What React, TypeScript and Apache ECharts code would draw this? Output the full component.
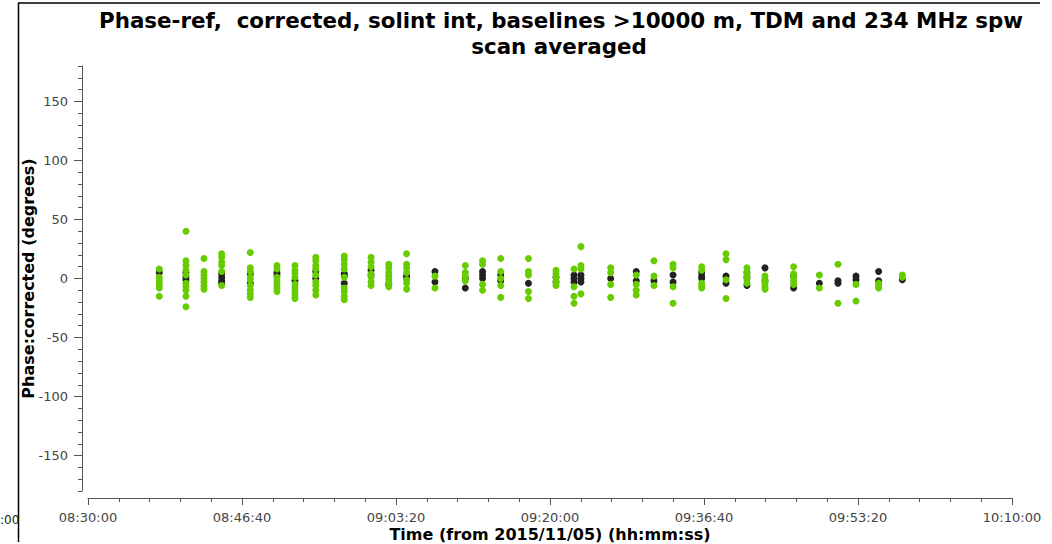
import React, { useEffect, useRef } from "react";
import * as echarts from "echarts";

// Scan mid-times (UT) on 2015/11/05
const scanTimes = [
  "08:37:43", "08:40:36", "08:42:33", "08:44:28", "08:47:34", "08:50:27",
  "08:52:24", "08:54:39", "08:57:44", "09:00:38", "09:02:33", "09:04:29",
  "09:07:33", "09:10:50", "09:12:42", "09:14:40", "09:17:40", "09:20:39",
  "09:22:36", "09:23:21", "09:26:34", "09:29:20", "09:31:15", "09:33:19",
  "09:36:25", "09:39:03", "09:41:19", "09:43:16", "09:46:22", "09:49:09",
  "09:51:10", "09:53:07", "09:55:34", "09:58:08",
];

// Corrected phases (degrees) per scan, 234 MHz spw
const greenPhases: number[][] = [
  [8, 1, -2, -5, -8, -15],
  [40, 15, 11, 7, 3, -4, -7, -10, -15, -24],
  [17, 6, 3, 0, -3, -6, -9],
  [21, 18, 14, 11, 6, -6],
  [22, 9, 6, 1, -1, -6, -10, -13, -16],
  [11, 8, 1, -2, -5, -8, -11],
  [11, 7, 4, 1, -5, -8, -11, -14, -17],
  [18, 15, 11, 8, 3, -3, -6, -10, -14],
  [19, 16, 12, 8, 1, -8, -11, -15, -18],
  [18, 14, 10, 4, 1, -3, -6],
  [12, 9, 5, 2, -1, -4, -7],
  [21, 12, 9, 5, -1, -4, -9],
  [2, -8],
  [11, 5, 2, -2],
  [15, 12, -5, -10],
  [17, 6, 0, -6, -16],
  [17, 6, 3, -11, -17],
  [7, 4, 1, -3, -6],
  [8, -7, -15, -21],
  [27, 11, 8, -13],
  [9, 5, -5, -16],
  [3, -5, -10, -14],
  [15, 2, -6],
  [12, 9, -7, -21],
  [10, 7, -4, -6, -8],
  [21, 16, -1, -17],
  [9, 5, 2, -1, -4],
  [2, -1, -4, -7, -9],
  [10, 4, 1, -2, -5],
  [3, -8],
  [12, -21],
  [-5, -19],
  [-4, -6, -8],
  [3, 1],
];

// Corrected phases (degrees) per scan, TDM spw
const blackPhases: number[][] = [
  [5],
  [5, 1, -1],
  [],
  [4, 1, -2, -4],
  [4, -4],
  [5, 3],
  [-2],
  [6, 0],
  [4, 3, -4],
  [7, 3],
  [-5],
  [2, 1],
  [6, -3],
  [0, -8],
  [6, 3, 0],
  [3, -2],
  [-4],
  [1, -3],
  [3, 0, -3],
  [3, 0, -3],
  [0],
  [6, -2],
  [-2],
  [3, -3],
  [5, 2, 0],
  [2, -4],
  [5, 1, -6],
  [9, -2],
  [2, -8],
  [-4],
  [-2, -4],
  [2, -1],
  [6, -2],
  [-1],
];

const axisStart = "08:30:00";
const axisEnd = "10:10:00";
const timeStep = 1000; // seconds between labelled ticks
const phaseMajorTicks = [-150, -100, -50, 0, 50, 100, 150];
const phaseMinorTicks = [
  -180, -170, -160, -150, -140, -130, -120, -110, -100, -90, -80, -70, -60,
  -50, -40, -30, -20, -10, 0, 10, 20, 30, 40, 50, 60, 70, 80, 90, 100, 110,
  120, 130, 140, 150, 160, 170, 180,
];

const toSec = (hms: string) => {
  const [h, m, s] = hms.split(":").map(Number);
  return h * 3600 + m * 60 + s;
};
const pad = (n: number) => String(n).padStart(2, "0");
const fmtHms = (sec: number) => {
  const h = Math.floor(sec / 3600);
  const m = Math.floor((sec % 3600) / 60);
  const s = Math.round(sec % 60);
  return `${pad(h)}:${pad(m)}:${pad(s)}`;
};

const startSec = toSec(axisStart);
const spanSec = toSec(axisEnd) - startSec;

const buildPoints = (sets: number[][]) => {
  const pts: [number, number][] = [];
  sets.forEach((vals, i) => {
    const t = toSec(scanTimes[i]) - startSec;
    vals.forEach((v) => pts.push([t, v]));
  });
  return pts;
};

const FONT = "DejaVu Sans";
const AXIS_GREY = "#555555";
const LABEL_GREY = "#444444";

export default function App() {
  const ref = useRef<HTMLDivElement>(null);

  useEffect(() => {
    if (!ref.current) return;
    const chart = echarts.init(ref.current, null, { renderer: "svg" });
    chart.setOption({
      animation: false,
      backgroundColor: "#ffffff",
      grid: {
        left: 88,
        right: 40,
        top: 66,
        bottom: 53,
        containLabel: false,
        outerBoundsMode: "none",
      },
      xAxis: {
        type: "value",
        min: 0,
        max: spanSec,
        interval: timeStep,
        offset: 7,
        axisLine: { show: true, onZero: false, lineStyle: { color: AXIS_GREY, width: 1 } },
        axisTick: { show: true, length: 7, lineStyle: { color: AXIS_GREY } },
        minorTick: { show: true, splitNumber: 5, length: 4, lineStyle: { color: AXIS_GREY } },
        splitLine: { show: false },
        minorSplitLine: { show: false },
        axisLabel: {
          formatter: (v: number) => fmtHms(v + startSec),
          color: LABEL_GREY,
          fontFamily: FONT,
          fontSize: 13,
          margin: 13,
        },
        name: "Time (from 2015/11/05) (hh:mm:ss)",
        nameLocation: "middle",
        nameGap: 28,
        nameMoveOverlap: false,
        nameTextStyle: { color: "#000", fontFamily: FONT, fontWeight: "bold", fontSize: 16 },
      },
      yAxis: [
        {
          type: "value",
          min: -180,
          max: 180,
          position: "left",
          offset: 6,
          axisLine: { show: true, onZero: false, lineStyle: { color: AXIS_GREY, width: 1 } },
          axisTick: { show: true, length: 8, customValues: phaseMajorTicks, lineStyle: { color: AXIS_GREY } },
          axisLabel: {
            customValues: phaseMajorTicks,
            color: LABEL_GREY,
            fontFamily: FONT,
            fontSize: 13,
            margin: 14,
          },
          splitLine: { show: false },
          name: "Phase:corrected (degrees)",
          nameLocation: "middle",
          nameGap: 46,
          nameMoveOverlap: false,
          nameTextStyle: { color: "#000", fontFamily: FONT, fontWeight: "bold", fontSize: 16 },
        },
        {
          type: "value",
          min: -180,
          max: 180,
          position: "left",
          offset: 6,
          axisLine: { show: false, onZero: false },
          axisTick: { show: true, length: 4, customValues: phaseMinorTicks, lineStyle: { color: AXIS_GREY } },
          axisLabel: { show: false },
          splitLine: { show: false },
        },
      ],
      series: [
        {
          name: "TDM",
          type: "scatter",
          data: buildPoints(blackPhases),
          symbol: "circle",
          symbolSize: 7,
          itemStyle: { color: "#222222", opacity: 1 },
        },
        {
          name: "234 MHz",
          type: "scatter",
          data: buildPoints(greenPhases),
          symbol: "circle",
          symbolSize: 7,
          itemStyle: { color: "#66cc00", opacity: 1 },
        },
      ],
      graphic: [
        {
          type: "line",
          shape: { x1: 18.5, y1: 3, x2: 18.5, y2: 542 },
          style: { stroke: "#000", lineWidth: 1.5 },
        },
        {
          type: "line",
          shape: { x1: 18, y1: 3, x2: 1040, y2: 3 },
          style: { stroke: "#000", lineWidth: 1.5 },
        },
        {
          type: "text",
          x: 0,
          y: 520,
          style: {
            text: ":00",
            font: `12px '${FONT}'`,
            fill: "#222",
            textAlign: "left",
            textVerticalAlign: "middle",
          },
        },
        {
          type: "text",
          x: 561,
          y: 20,
          style: {
            text: "Phase-ref,  corrected, solint int, baselines >10000 m, TDM and 234 MHz spw",
            font: `bold 21.4px '${FONT}'`,
            fill: "#000",
            textAlign: "center",
            textVerticalAlign: "middle",
          },
        },
        {
          type: "text",
          x: 559,
          y: 46,
          style: {
            text: "scan averaged",
            font: `bold 21.4px '${FONT}'`,
            fill: "#000",
            textAlign: "center",
            textVerticalAlign: "middle",
          },
        },
      ],
    });
    return () => chart.dispose();
  }, []);

  return (
    <div
      ref={ref}
      style={{ position: "fixed", left: 0, top: 0, width: 1052, height: 544, background: "#fff" }}
    />
  );
}
